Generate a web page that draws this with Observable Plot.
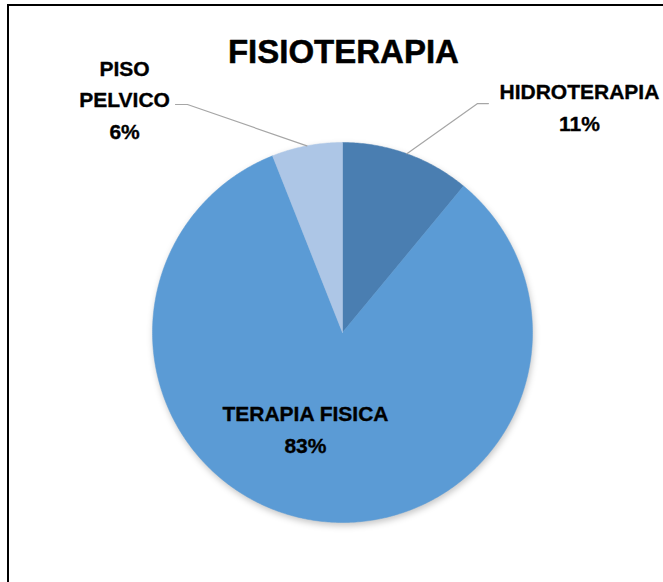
<!DOCTYPE html>
<html>
<head>
<meta charset="utf-8">
<script src="https://cdn.jsdelivr.net/npm/d3@7"></script>
<script src="https://cdn.jsdelivr.net/npm/@observablehq/plot@0.6"></script>
<style>
  html, body { margin: 0; padding: 0; background: #fff; overflow: hidden; }
  #wrap { position: relative; width: 663px; height: 582px; }
  #frame { position: absolute; left: 7px; top: 4px; width: 800px; height: 800px;
           border: 2px solid #000; pointer-events: none; }
</style>
</head>
<body>
<div id="wrap"><div id="chart"></div><div id="frame"></div></div>
<script>
// ---- data ----
const title = "FISIOTERAPIA";
const categories = ["HIDROTERAPIA", "TERAPIA FISICA", "PISO PELVICO"];
const values = [11, 83, 6];
const labelText = ["HIDROTERAPIA", "TERAPIA FISICA", "PISO\nPELVICO"];
const colors = ["#4A7EB1", "#5B9BD5", "#ADC6E6"];

// ---- build ----
const total = d3.sum(values);
const table = categories.map((c, i) => ({category: c, value: values[i], label: labelText[i]}));
const arcs = d3.pie().sort(null).value(d => d.value)(table);

const slicePts = arcs.flatMap(a => {
  const n = Math.max(2, Math.ceil((a.endAngle - a.startAngle) / 0.01));
  const pts = [{x: 0, y: 0, category: a.data.category}];
  for (let k = 0; k <= n; k++) {
    const t = a.startAngle + (a.endAngle - a.startAngle) * k / n;
    pts.push({x: Math.sin(t), y: Math.cos(t), category: a.data.category});
  }
  pts.push({x: 0, y: 0, category: a.data.category});
  return pts;
});

const mid = a => (a.startAngle + a.endAngle) / 2;
const byCat = Object.fromEntries(arcs.map(a => [a.data.category, a]));

// label layout (data units: 1 = pie radius)
const layout = {
  "HIDROTERAPIA":   {tx: 1.247, ty: 1.063, leader: [[0.711, 1.205], [0.768, 1.205]]},
  "TERAPIA FISICA": {tx: -0.195, ty: -0.632, leader: null},
  "PISO PELVICO":   {tx: -1.147, ty: 1.021, leader: [[-0.816, 1.200], [-0.879, 1.200]]}
};

const labels = table.map(d => ({
  x: layout[d.category].tx,
  y: layout[d.category].ty,
  text: `${d.label}\n${Math.round(d.value / total * 100)}%`
}));

const leaders = table.filter(d => layout[d.category].leader).flatMap(d => {
  const a = byCat[d.category];
  const m = mid(a);
  return [
    {x: Math.sin(m), y: Math.cos(m), category: d.category},
    ...layout[d.category].leader.map(([x, y]) => ({x, y, category: d.category}))
  ];
});

const chart = Plot.plot({
  width: 663,
  height: 582,
  marginLeft: 152,
  marginRight: 131,
  marginTop: 142,
  marginBottom: 60,
  x: {domain: [-1, 1], axis: null},
  y: {domain: [-1, 1], axis: null},
  color: {domain: categories, range: colors},
  style: {fontFamily: "'Liberation Sans', Arial, sans-serif", background: "white", overflow: "visible"},
  marks: [
    Plot.line(slicePts, {x: "x", y: "y", z: "category", fill: "category", stroke: "category", strokeWidth: 0.5}),
    Plot.line(leaders, {x: "x", y: "y", z: "category", stroke: "#A6A6A6", strokeWidth: 1.2}),
    Plot.text(labels, {x: "x", y: "y", text: "text", fontSize: 21, fontWeight: "bold", fill: "#000",
                       stroke: "#000", strokeWidth: 0.35,
                       lineAnchor: "bottom", lineHeight: 1.5, textAnchor: "middle"}),
    Plot.text([title], {x: () => 0.005, y: () => 1.416, text: d => d, fontSize: 33, fontWeight: "bold",
                        fill: "#000", stroke: "#000", strokeWidth: 0.5,
                        lineAnchor: "bottom", textAnchor: "middle"})
  ]
});

const sliceGroup = chart.querySelector('g[aria-label="line"]');
if (sliceGroup) sliceGroup.style.filter = "drop-shadow(1px 3px 3px rgba(0,0,0,0.22))";
document.getElementById("chart").appendChild(chart);
</script>
</body>
</html>
